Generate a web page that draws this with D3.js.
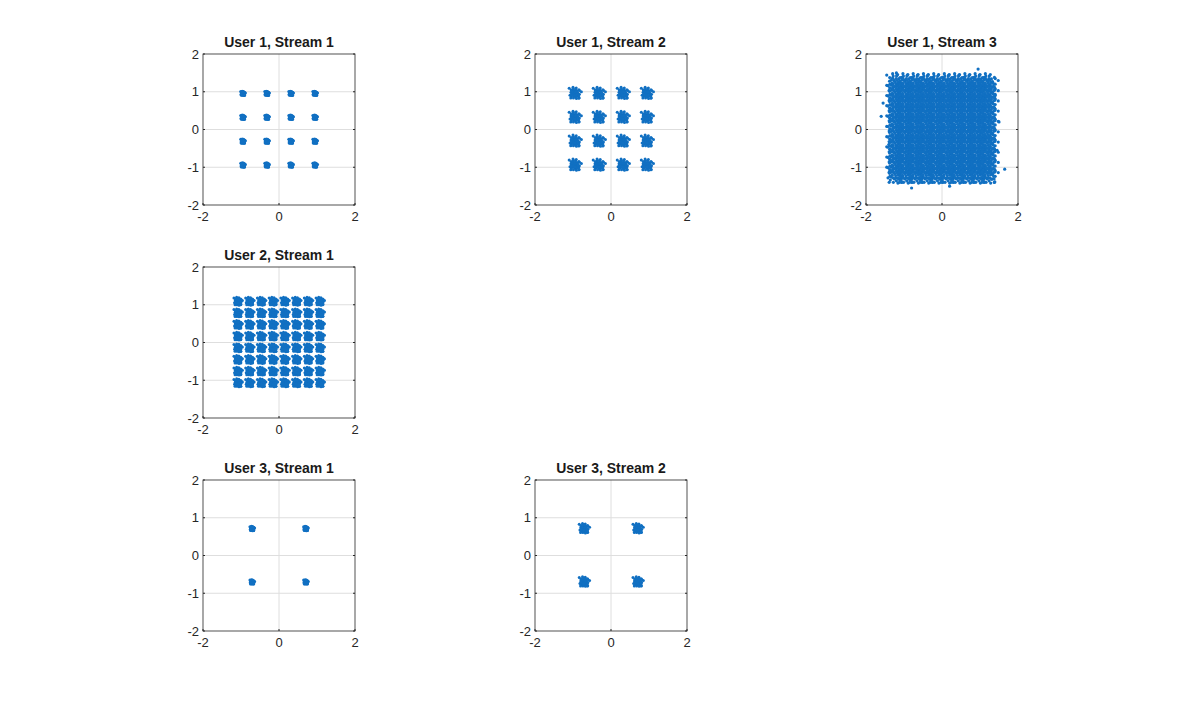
<!DOCTYPE html>
<html><head><meta charset="utf-8">
<script src="https://cdn.jsdelivr.net/npm/d3@7"></script>
<style>body{margin:0;background:#fff}text{font-family:"Liberation Sans",Arial,sans-serif}</style>
</head><body><svg id="c" width="1180" height="710"></svg>
<script>
const qam16 = [-0.949,-0.316,0.316,0.949];
const qam64 = [-1.080,-0.772,-0.463,-0.154,0.154,0.463,0.772,1.080];
const qpsk = [-0.707,0.707];
const cloudLevels = [-1.22,-0.95,-0.68,-0.41,-0.14,0.14,0.41,0.68,0.95,1.22];
const jitter = [[0,0],[0.3,0.1],[-0.2,0.4],[0.5,-0.3],[-0.6,-0.2],[0.1,-0.7],[0.7,0.5],[-0.4,0.7],[-0.8,0.3],[0.2,0.9],
 [0.9,-0.1],[-0.3,-0.9],[0.6,-0.7],[-0.7,-0.6],[0.4,0.6],[-0.1,0.2],[0.25,-0.35],[-0.45,0.05],[0.05,0.5],[-0.15,-0.45],
 [0.8,0.8],[-0.9,0.85],[0.85,-0.85],[-0.85,-0.9],[1.0,0.3],[-1.0,-0.3],[0.3,-1.0],[-0.3,1.0],[0.55,0.25],[-0.55,0.45],
 [0.15,0.3],[-0.35,-0.3],[0.45,-0.5],[-0.6,0.6],[0.65,0.0],[0.0,-0.3],[-0.25,0.75],[0.75,-0.45],[-0.75,-0.1],[0.1,0.75]];
const outliers = [[-1.6,0.35],[-1.4,-0.4],[1.5,0.2],[1.45,-0.55],[0.95,1.6],[-0.8,-1.55],[1.65,-1.05],[-1.2,1.5],[0.2,-1.5],[-1.55,0.7],[1.4,0.9]];
const ticksX = [-2,0,2], ticksY = [-2,-1,0,1,2];
const panels = [
 {title:"User 1, Stream 1", col:0,row:0, lv:qam16, s:0.05},
 {title:"User 1, Stream 2", col:1,row:0, lv:qam16, s:0.13},
 {title:"User 1, Stream 3", col:2,row:0, lv:cloudLevels, s:0.2, out:true},
 {title:"User 2, Stream 1", col:0,row:1, lv:qam64, s:0.09},
 {title:"User 3, Stream 1", col:0,row:2, lv:qpsk, s:0.05},
 {title:"User 3, Stream 2", col:1,row:2, lv:qpsk, s:0.11}
];
const svg = d3.select("#c");
const colX=[203,535,866], rowY=[54,267,480], W=152, H=151;
panels.forEach(p=>{
  const g = svg.append("g").attr("transform",`translate(${colX[p.col]},${rowY[p.row]})`);
  const x=d3.scaleLinear().domain([-2,2]).range([0,W]);
  const y=d3.scaleLinear().domain([-2,2]).range([H,0]);
  g.append("rect").attr("width",W).attr("height",H).attr("fill","#fff");
  g.selectAll(".gx").data([0]).join("line").attr("x1",d=>x(d)).attr("x2",d=>x(d)).attr("y1",0).attr("y2",H).attr("stroke","#dedede");
  g.selectAll(".gy").data([-1,0,1]).join("line").attr("class","gy").attr("y1",d=>y(d)).attr("y2",d=>y(d)).attr("x1",0).attr("x2",W).attr("stroke","#dedede");
  const pts=[];
  p.lv.forEach(a=>p.lv.forEach(b=>jitter.forEach((j,k)=>{
    const r=(k%3===0)?1.3:1;
    pts.push([a+j[0]*p.s*r, b+j[1]*p.s*r]);})));
  if(p.out) outliers.forEach(o=>pts.push(o));
  g.selectAll("circle").data(pts).join("circle").attr("cx",d=>x(d[0])).attr("cy",d=>y(d[1]))
    .attr("r",p.out?1.6:1.5).attr("fill","#1170c2");
  g.append("rect").attr("width",W).attr("height",H).attr("fill","none").attr("stroke","#262626").attr("stroke-width",0.8);
  ticksX.forEach(t=>{
    g.append("line").attr("x1",x(t)).attr("x2",x(t)).attr("y1",H).attr("y2",H-2).attr("stroke","#262626");
    g.append("text").attr("x",x(t)).attr("y",H+16).attr("text-anchor","middle").attr("font-size",13).attr("fill","#262626").text(t);
  });
  ticksY.forEach(t=>{
    g.append("line").attr("x1",0).attr("x2",2).attr("y1",y(t)).attr("y2",y(t)).attr("stroke","#262626");
    g.append("line").attr("x1",W).attr("x2",W-2).attr("y1",y(t)).attr("y2",y(t)).attr("stroke","#262626");
    g.append("text").attr("x",-4).attr("y",y(t)+4.5).attr("text-anchor","end").attr("font-size",13).attr("fill","#262626").text(t);
  });
  g.append("text").attr("x",W/2).attr("y",-7).attr("text-anchor","middle").attr("font-size",14).attr("font-weight","bold").attr("fill","#1a1a1a").text(p.title);
});
</script></body></html>
